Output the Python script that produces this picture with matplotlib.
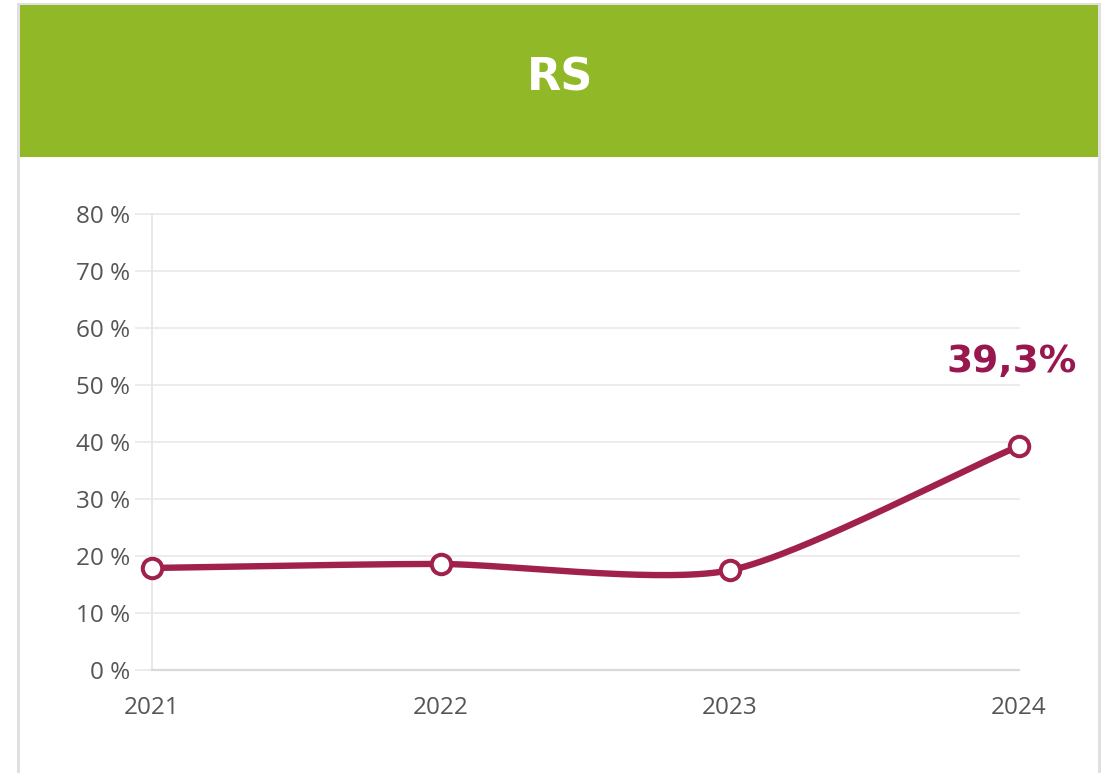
import matplotlib
matplotlib.use("Agg")
import matplotlib.pyplot as plt
import numpy as np
from matplotlib.patches import Rectangle

years = [2021, 2022, 2023, 2024]
values = [17.9, 18.6, 17.5, 39.3]
y_ticks = [0, 10, 20, 30, 40, 50, 60, 70, 80]
y_tick_labels = ["0 %", "10 %", "20 %", "30 %", "40 %", "50 %", "60 %", "70 %", "80 %"]
title = "RS"
last_label = "39,3%"

line_color = "#a0224b"
label_color = "#98174f"
header_color = "#90b827"


def smooth(xs, ys, tension=0.35, steps=60):
    # cardinal spline through the points, like the web chart draws it
    xs = np.asarray(xs, dtype=float)
    ys = np.asarray(ys, dtype=float)
    n = len(xs)
    mx = np.zeros(n)
    my = np.zeros(n)
    for i in range(n):
        a = max(i - 1, 0)
        b = min(i + 1, n - 1)
        mx[i] = tension * (xs[b] - xs[a]) * (2.0 / (b - a))
        my[i] = tension * (ys[b] - ys[a]) * (2.0 / (b - a))
    out_x, out_y = [], []
    t = np.linspace(0, 1, steps)
    h00 = 2 * t**3 - 3 * t**2 + 1
    h10 = t**3 - 2 * t**2 + t
    h01 = -2 * t**3 + 3 * t**2
    h11 = t**3 - t**2
    for i in range(n - 1):
        out_x.append(h00 * xs[i] + h10 * mx[i] + h01 * xs[i + 1] + h11 * mx[i + 1])
        out_y.append(h00 * ys[i] + h10 * my[i] + h01 * ys[i + 1] + h11 * my[i + 1])
    return np.concatenate(out_x), np.concatenate(out_y)


fig = plt.figure(figsize=(11.05, 7.73), dpi=100)
W, H = 1105, 773

# card border and green header
fig.patches.append(Rectangle((18 / W, -0.01), 1081 / W, 1 - 4 / H + 0.01, transform=fig.transFigure,
                             facecolor="none", edgecolor="#e0e0e0", linewidth=2.2, zorder=0))
fig.patches.append(Rectangle((20 / W, 1 - 157 / H), 1078 / W, 152 / H, transform=fig.transFigure,
                             facecolor=header_color, edgecolor="none", zorder=1))
fig.text(560 / W, 1 - 78 / H, title, color="white", fontsize=32, fontweight="bold",
         family="DejaVu Sans", ha="center", va="center")

ax = fig.add_axes([152 / W, 1 - 670 / H, 867 / W, 456 / H])
ax.patch.set_alpha(0)
ax.set_xlim(2021, 2024)
ax.set_ylim(0, 80)

ax.set_yticks(y_ticks)
ax.set_yticklabels(y_tick_labels)
ax.set_xticks(years)
ax.set_xticklabels([str(y) for y in years])
ax.grid(axis="y", color="#ebebeb", linewidth=1.3, clip_on=False)
ax.set_axisbelow(True)

for s in ["top", "right"]:
    ax.spines[s].set_visible(False)
ax.spines["left"].set_color("#e6e6e6")
ax.spines["left"].set_linewidth(1.3)
ax.spines["bottom"].set_color("#d9d9d9")
ax.spines["bottom"].set_linewidth(1.6)

ax.tick_params(axis="y", length=12, color="#ebebeb", width=1.3, pad=4, labelsize=17.5, labelcolor="#555555")
ax.tick_params(axis="x", length=0, pad=19, labelsize=17.5, labelcolor="#555555")
for lab in ax.get_xticklabels() + ax.get_yticklabels():
    lab.set_family("Open Sans")

sx, sy = smooth(years, values)
ax.plot(sx, sy, color=line_color, linewidth=4.6, solid_capstyle="round", clip_on=False, zorder=3)
ax.plot(years, values, linestyle="none", marker="o", markersize=14, markerfacecolor="white",
        markeredgecolor=line_color, markeredgewidth=2.9, clip_on=False, zorder=4)

ax.annotate(last_label, xy=(years[-1], values[-1]), xytext=(-7, 84), textcoords="offset pixels",
            ha="center", va="center", color=label_color, fontsize=27, fontweight="bold",
            family="DejaVu Sans", annotation_clip=False)

fig.savefig("out.png", dpi=100)
